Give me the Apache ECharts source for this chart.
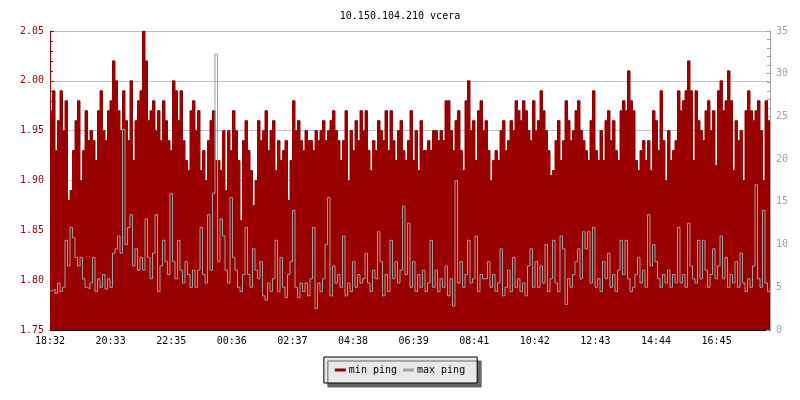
<!DOCTYPE html>
<html>
<head>
<meta charset="utf-8">
<script src="https://cdn.jsdelivr.net/npm/echarts@6/dist/echarts.min.js"></script>
<style>html,body{margin:0;padding:0;background:#fff}#c{width:800px;height:400px}</style>
</head>
<body>
<div id="c"></div>
<script>
const titleText = '10.150.104.210 vcera';
const seriesNames = ['min ping', 'max ping'];
const tickLabels = ['18:32','20:33','22:35','00:36','02:37','04:38','06:39','08:41','10:42','12:43','14:44','16:45'];
const stepMinutes = 5;          // sample spacing
const tickMinutes = 121.2;      // label spacing
const spanMinutes = 1440;

// min ping (ms), left axis
const minPing = [
1.97,1.99,1.93,1.96,1.99,1.95,1.98,1.88,1.89,1.93,
1.96,1.98,1.90,1.93,1.97,1.94,1.95,1.94,1.92,1.97,
1.99,1.95,1.94,1.97,1.98,2.02,2.00,1.97,1.95,1.99,
1.96,1.94,2.00,1.92,1.96,1.98,1.99,2.05,2.02,1.96,
1.97,1.98,1.95,1.97,1.94,1.98,1.96,1.94,1.93,2.00,
1.99,1.96,1.99,1.94,1.92,1.91,1.97,1.98,
1.95,1.97,1.91,1.93,1.90,1.94,1.96,1.97,1.92,1.92,
1.91,1.95,1.89,1.95,1.93,1.97,1.95,1.92,1.86,1.94,
1.96,1.93,1.91,1.875,1.90,1.96,1.94,1.95,1.97,1.93,
1.95,1.96,1.91,1.94,1.92,1.93,1.94,1.88,1.92,1.98,
1.95,1.96,1.94,1.93,1.95,1.94,1.94,1.93,1.95,1.94,
1.95,1.96,1.94,1.95,1.96,1.97,1.95,1.94,
1.92,1.94,1.97,1.90,1.95,1.93,1.96,1.94,1.97,1.95,
1.97,1.93,1.91,1.94,1.93,1.96,1.95,1.94,1.97,1.93,
1.97,1.94,1.92,1.95,1.96,1.93,1.92,1.94,1.97,1.92,
1.95,1.91,1.96,1.93,1.93,1.94,1.93,1.95,1.95,1.94,
1.95,1.94,1.98,1.98,1.95,1.93,1.96,1.97,1.93,1.91,
1.98,2.00,1.95,1.96,1.92,1.97,1.98,1.95,
1.96,1.93,1.90,1.92,1.93,1.92,1.95,1.96,1.93,1.94,
1.96,1.95,1.98,1.97,1.96,1.98,1.97,1.95,1.94,1.98,
1.95,1.96,1.99,1.97,1.95,1.93,1.905,1.91,1.94,1.96,
1.92,1.94,1.98,1.96,1.94,1.95,1.97,1.98,1.95,1.94,
1.93,1.92,1.96,1.99,1.93,1.92,1.95,1.92,1.96,1.97,
1.94,1.96,1.93,1.92,1.97,1.98,1.97,2.01,
1.98,1.97,1.92,1.91,1.93,1.94,1.92,1.94,1.91,1.97,
1.96,1.93,1.99,1.94,1.90,1.95,1.92,1.93,1.94,1.99,
1.97,1.98,1.99,2.02,1.99,1.92,1.99,1.96,1.95,1.94,
1.97,1.98,1.95,1.97,1.915,1.99,2.00,1.97,1.98,2.01,
1.98,1.91,1.96,1.94,1.95,1.90,1.97,1.99,1.97,1.96,
1.97,1.98,1.95,1.90,1.98,1.96,1.96
];

// max ping (ms), right axis
const maxPing = [
4.6,4.8,4.3,5.5,4.5,5.0,10.5,7.5,12.0,10.8,
8.5,7.5,8.5,6.0,5.0,4.8,5.5,8.5,4.5,6.0,
5.0,6.5,4.8,6.0,5.0,9.0,9.5,11.0,9.0,23.5,
10.0,12.0,13.5,7.5,9.5,7.0,8.5,7.0,13.0,8.5,
6.0,9.0,13.5,4.5,7.5,10.5,8.0,6.5,16.0,8.0,
6.0,10.5,7.0,5.5,8.0,6.5,5.0,7.0,
5.0,7.0,12.0,6.5,5.5,13.5,7.0,16.0,32.3,8.0,
13.0,11.0,7.0,5.5,15.5,8.5,7.0,5.0,4.5,6.5,
12.0,6.5,5.0,9.5,7.0,6.0,8.0,4.0,3.5,5.5,
4.5,6.0,10.5,4.5,8.5,5.0,3.8,6.5,8.0,14.0,
5.0,3.8,5.5,4.5,5.5,4.0,6.0,12.0,2.5,5.5,
4.5,6.0,10.0,15.5,4.0,7.5,5.5,6.5,
5.0,11.0,4.0,5.5,4.5,8.0,5.0,6.5,5.5,6.0,
9.0,5.5,4.5,7.0,6.0,11.5,8.0,4.0,6.5,4.5,
10.5,6.0,8.0,5.5,7.0,14.5,6.5,12.5,5.0,8.0,
4.5,6.5,5.0,7.0,4.5,5.5,10.5,5.0,7.0,4.5,
6.0,5.0,7.5,4.0,6.0,2.8,17.5,5.5,8.0,5.0,
6.5,10.5,5.5,6.0,11.0,4.5,6.5,6.0,
6.0,8.0,5.0,6.5,4.5,5.5,9.5,4.0,5.0,7.0,
4.5,8.5,5.0,6.0,4.5,5.5,4.0,7.5,9.5,5.0,
8.0,5.0,7.5,5.5,10.0,4.5,6.0,10.5,5.5,4.5,
11.0,9.5,3.0,6.0,5.0,6.5,8.0,9.5,6.0,11.5,
9.5,11.5,5.5,12.0,5.0,6.0,4.5,8.0,6.0,9.0,
5.0,6.5,4.5,7.0,10.5,6.5,10.5,6.0,
4.5,5.0,6.5,8.5,5.5,7.0,5.0,13.5,7.5,10.0,
8.0,6.0,5.0,6.5,5.5,7.0,5.0,6.5,5.5,12.0,
5.5,6.5,5.0,12.5,7.5,6.0,5.5,10.5,6.0,10.5,
7.0,5.0,6.5,9.5,6.0,7.5,11.0,6.0,8.5,5.0,
6.5,5.5,8.0,5.0,9.0,5.5,4.5,6.0,5.0,7.5,
17.0,6.0,5.0,14.0,5.5,4.5,5.0
];

const RED = '#990000';
const GRAY = '#a0a0a0';
const FONT = 'DejaVu Sans Mono';

const minData = minPing.map((v, i) => [i * stepMinutes, v]);
const maxData = maxPing.map((v, i) => [i * stepMinutes, v]);

const chart = echarts.init(document.getElementById('c'), null, {renderer: 'canvas'});
chart.setOption({
  animation: false,
  backgroundColor: '#ffffff',
  textStyle: {fontFamily: FONT},
  title: {
    text: titleText, left: 'center', top: 6,
    textStyle: {fontFamily: FONT, fontSize: 10, fontWeight: 'normal', color: '#000'}
  },
  grid: {left: 50, right: 30, top: 31, bottom: 70},
  legend: {
    data: seriesNames.map(n => ({name: n, icon: 'rect'})),
    bottom: 17, left: 'center',
    itemWidth: 11, itemHeight: 3, itemGap: 6,
    padding: [8, 12, 8, 11],
    backgroundColor: '#e8e8e8', borderColor: '#000', borderWidth: 1,
    shadowColor: '#666', shadowOffsetX: 4, shadowOffsetY: 4, shadowBlur: 0,
    textStyle: {fontFamily: FONT, fontSize: 10, color: '#000', padding: [0, 0, 0, -2]}
  },
  xAxis: {
    type: 'value', min: 0, max: spanMinutes, interval: tickMinutes,
    axisLine: {show: true, lineStyle: {color: '#000', width: 1}},
    axisTick: {show: true, inside: true, length: 4, lineStyle: {color: '#000'}},
    axisLabel: {
      color: '#000', fontFamily: FONT, fontSize: 10, margin: 6, showMaxLabel: false,
      formatter: v => tickLabels[Math.round(v / tickMinutes)] || ''
    },
    splitLine: {show: false}
  },
  yAxis: [{
    type: 'value', min: 1.75, max: 2.05, interval: 0.05, position: 'left',
    axisLine: {show: true, lineStyle: {color: RED}},
    axisTick: {show: true, inside: true, length: 4, lineStyle: {color: RED}},
    minorTick: {show: true, splitNumber: 5, length: 3, lineStyle: {color: RED}},
    axisLabel: {color: RED, fontFamily: FONT, fontSize: 10, margin: 6, formatter: v => v.toFixed(2)},
    splitLine: {show: true, lineStyle: {color: '#c0c0c0', width: 1}}
  }, {
    type: 'value', min: 0, max: 35, interval: 5, position: 'right',
    axisLine: {show: true, lineStyle: {color: GRAY}},
    axisTick: {show: true, inside: true, length: 4, lineStyle: {color: GRAY}},
    minorTick: {show: true, splitNumber: 5, length: 3, lineStyle: {color: GRAY}},
    axisLabel: {color: GRAY, fontFamily: FONT, fontSize: 10, margin: 6},
    splitLine: {show: false}
  }],
  series: [{
    name: seriesNames[0], type: 'line', yAxisIndex: 0, data: minData, step: 'end',
    showSymbol: false, symbol: 'none',
    lineStyle: {color: RED, width: 1}, itemStyle: {color: RED},
    areaStyle: {color: RED, opacity: 1, origin: 'start'}, z: 2
  }, {
    name: seriesNames[1], type: 'line', yAxisIndex: 1, data: maxData, step: 'end',
    showSymbol: false, symbol: 'none',
    lineStyle: {color: GRAY, width: 1}, itemStyle: {color: GRAY}, z: 3
  }]
});
</script>
</body>
</html>
